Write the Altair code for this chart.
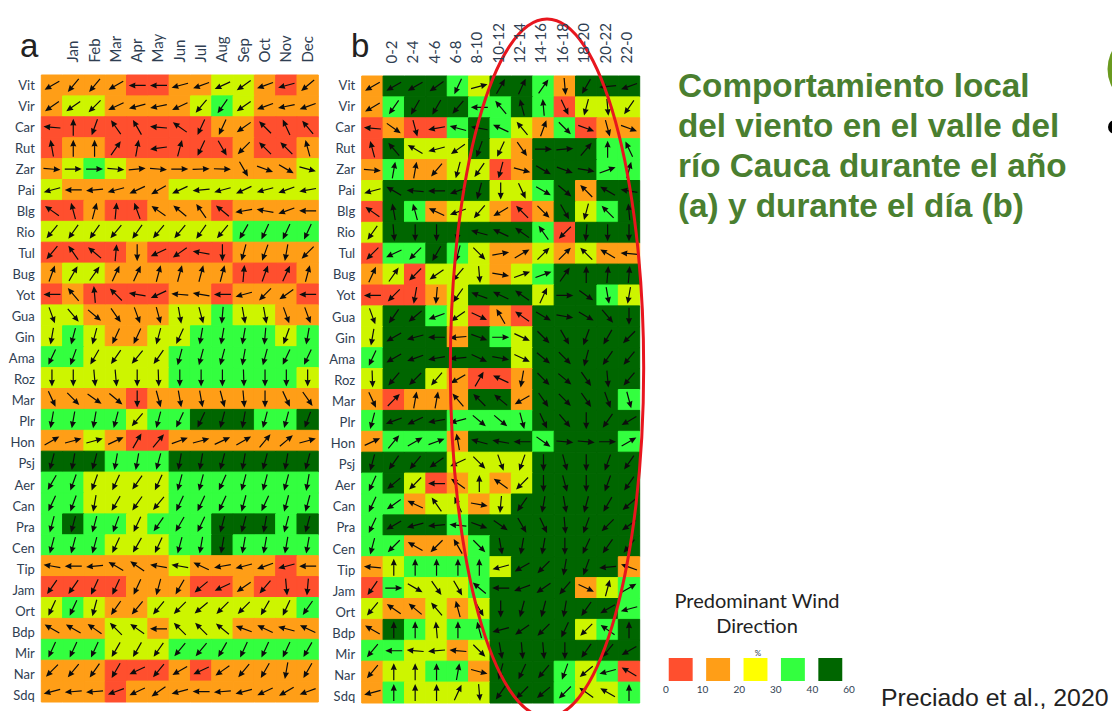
import altair as alt
import pandas as pd

ROWS = ["Vit","Vir","Car","Rut","Zar","Pai","Blg","Rio","Tul","Bug","Yot","Gua","Gin","Ama","Roz",
        "Mar","Plr","Hon","Psj","Aer","Can","Pra","Cen","Tip","Jam","Ort","Bdp","Mir","Nar","Sdq"]
MONTHS = ["Anual","Jan","Feb","Mar","Apr","May","Jun","Jul","Aug","Sep","Oct","Nov","Dec"]
HOURS = ["Dia","0-2","2-4","4-6","6-8","8-10","10-12","12-14","14-16","16-18","18-20","20-22","22-0"]

CLASS_A = ["1111001122101","1221111232111","0000000011000","0110000001001","1232111111112",
           "2111112222222","0010011101111","2222222223333","0000100001111","1221111110001",
           "0100001101110","2211112232211","2321122333323","3322223333333","2222223333332",
           "1111011111111","3333233444334","1121001111111","4443334444444","3322223333333",
           "3322223333333","3433233344434","3332223343333","1111112111101","0000111001000",
           "2321122222223","1112212221111","3332223333333","1110001011111","1110111111111"]
CLASS_B = ["1444324431444","1344433430222","0100343213011","0422242144433","1311220144433",
           "2444442234144","0431221014234","2444444430444","0334321121211","1202221234444",
           "0001244424432","2443201044444","2444143244444","3444444244444","2442100144444",
           "1011144144443","3444333344444","1333144434443","4444222244444","3420121244444",
           "3312212444444","3444344444444","3311134444444","1233332444441","0322234444123",
           "2112124444443","1432334444234","3322124444444","1223314443230","1322224443223"]

ANGLE_A = [
 [240,220,220,240,270,270,255,250,245,235,250,255,230],
 [235,235,225,245,255,258,245,220,215,235,250,258,250],
 [275,0,200,325,330,275,305,205,205,235,315,335,320],
 [350,0,0,35,10,262,15,205,150,225,315,315,345],
 [95,90,90,95,85,95,90,88,92,150,110,120,105],
 [255,270,265,255,245,240,245,265,255,245,255,250,260],
 [305,345,15,5,340,305,310,325,310,260,280,250,270],
 [220,215,215,220,215,220,220,215,220,210,205,205,205],
 [220,325,310,5,180,245,235,280,180,195,200,190,225],
 [20,30,35,25,25,15,15,15,15,5,20,25,15],
 [270,320,355,315,280,245,275,280,270,255,225,235,270],
 [160,140,130,145,160,165,170,165,185,170,170,160,160],
 [190,195,195,205,205,195,205,190,190,190,185,200,190],
 [205,200,210,215,220,215,195,195,195,190,195,205,205],
 [180,180,175,175,180,178,180,180,180,178,180,180,180],
 [155,135,125,130,180,165,170,170,165,175,180,155,145],
 [190,190,190,195,220,195,205,205,195,190,195,195,200],
 [60,75,75,65,30,40,70,75,65,60,40,50,75],
 [195,190,195,190,190,195,190,190,195,190,195,190,195],
 [210,200,200,205,215,205,195,195,205,195,195,195,190],
 [205,200,190,210,215,220,205,205,205,195,205,195,195],
 [195,195,195,200,205,215,210,205,195,195,190,195,195],
 [195,195,195,205,210,205,195,190,190,190,190,190,190],
 [280,270,265,300,305,280,280,295,260,255,250,255,270],
 [215,215,205,205,205,195,210,230,245,235,220,175,185],
 [205,205,195,215,220,220,225,230,225,225,210,205,215],
 [300,300,305,315,305,270,315,315,310,290,295,285,295],
 [205,205,205,210,210,215,220,220,210,205,205,205,210],
 [225,220,215,210,245,220,240,245,235,220,210,190,210],
 [255,265,265,250,245,235,255,270,265,255,245,240,250],
]
ANGLE_B = [
 [240,240,240,235,205,75,30,25,35,175,210,265,250],
 [240,215,210,210,220,270,320,345,355,155,195,175,215],
 [275,125,165,260,285,280,295,320,20,135,110,165,110],
 [345,320,300,255,235,200,205,145,90,85,40,0,335],
 [95,10,10,220,195,215,195,105,120,110,100,70,15],
 [255,300,275,270,250,195,180,155,120,130,315,300,280],
 [305,350,345,295,250,220,240,315,135,150,195,315,355],
 [215,175,180,180,190,285,295,305,325,225,185,180,180],
 [225,245,225,210,195,135,80,60,45,45,315,300,275],
 [25,35,225,235,220,175,100,70,70,35,0,5,5],
 [270,225,190,185,215,290,295,305,25,90,125,170,190],
 [160,215,230,250,235,115,330,305,120,100,120,140,180],
 [190,240,255,270,265,110,90,115,135,150,200,210,225],
 [205,240,250,260,265,115,100,115,130,135,195,215,220],
 [178,220,225,220,240,30,295,190,135,130,145,175,220],
 [155,45,10,10,320,315,310,240,145,135,145,160,165],
 [195,250,245,260,255,130,130,165,155,140,180,215,240],
 [65,40,60,70,350,285,280,270,125,95,95,90,60],
 [195,215,220,235,245,135,160,200,180,165,180,200,215],
 [205,230,225,270,305,0,305,225,180,165,180,200,215],
 [205,235,295,325,335,100,185,215,190,170,195,210,230],
 [205,240,255,265,275,110,125,150,155,175,200,225,235],
 [195,225,300,225,330,135,170,190,190,180,205,215,220],
 [275,0,0,0,0,0,255,240,225,190,200,265,290],
 [215,90,120,145,150,310,270,250,235,220,115,15,60],
 [220,305,310,320,345,150,180,195,195,190,215,240,255],
 [300,0,0,355,0,345,255,235,225,205,225,305,0],
 [220,270,275,265,275,135,170,175,175,180,215,220,240],
 [220,0,0,0,10,105,195,205,220,200,230,255,300],
 [255,0,0,0,25,175,215,225,230,225,305,300,0],
]

PALETTE = ["#FF4F2E", "#FF9E17", "#CDF500", "#33FF3F", "#006600"]
LEGEND_COLORS = ["#FF4F2E", "#FF9E17", "#FFFF00", "#33FF3F", "#006600"]
LEGEND_BINS = ["0-10", "10-20", "20-30", "30-40", "40-60"]
LEGEND_TICKS = ["0", "10", "20", "30", "40", "60"]
TITLE_LINES = ["Comportamiento local", "del viento en el valle del", "río Cauca durante el año", "(a) y durante el día (b)"]

ARROW = "M-0.07 1 L0.07 1 L0.07 -0.25 L0.36 -0.2 L0 -1 L-0.36 -0.2 L-0.07 -0.25 Z"
ELLIPSE = "M0 -1 A0.277 1 0 1 1 0 1 A0.277 1 0 1 1 0 -1 Z"
W, H = 1104, 703
M = 8


def table(classes, angles, cols):
    return pd.DataFrame([
        {"row": r, "col": c, "hex": PALETTE[int(classes[i][j])], "angle": angles[i][j]}
        for i, r in enumerate(ROWS) for j, c in enumerate(cols)
    ])


def panel(df, cols, xr, yr, label_yr, label_x_offset):
    xs = alt.Scale(type="band", domain=cols, range=xr, padding=0)
    ys = alt.Scale(type="band", domain=ROWS, range=yr, padding=0)
    ls = alt.Scale(type="band", domain=ROWS, range=label_yr, padding=0)
    first = cols[0]
    x_axis = alt.Axis(orient="top", offset=-yr[0], title=None, domain=False, ticks=False,
                      labelAngle=270, labelAlign="left", labelBaseline="middle", labelPadding=13,
                      labelOffset=label_x_offset,
                      labelFont="Lato", labelFontSize=15, labelColor="#2f3e52", grid=False,
                      labelOverlap=False,
                      labelExpr=f"datum.value == '{first}' ? '' : datum.value")
    y_axis = alt.Axis(orient="left", offset=-xr[0], title=None, domain=False, ticks=False,
                      labelPadding=7, labelFont="Lato", labelFontSize=13, labelColor="#2f3e52",
                      grid=False, labelOverlap=False)
    rect = alt.Chart(df).mark_rect(strokeWidth=1).encode(
        x=alt.X("col:N", scale=xs, axis=x_axis, sort=cols),
        y=alt.Y("row:N", scale=ys, axis=None, sort=ROWS),
        color=alt.Color("hex:N", scale=None),
        stroke=alt.Stroke("hex:N", scale=None),
    )
    arrows = alt.Chart(df).mark_point(shape=ARROW, filled=True, size=289, opacity=1, color="#0d0d0d").encode(
        x=alt.X("col:N", scale=xs, axis=x_axis, sort=cols),
        y=alt.Y("row:N", scale=ys, axis=None, sort=ROWS),
        angle=alt.Angle("angle:Q", scale=None),
    )
    # The row labels in the reference run on a slightly wider pitch than the cells.
    labels = alt.Chart(pd.DataFrame({"row": ROWS})).mark_rect(opacity=0).encode(
        y=alt.Y("row:N", scale=ls, axis=y_axis, sort=ROWS),
    )
    return alt.layer(rect, arrows), labels


one = pd.DataFrame({"k": [1]})


def note(text, x, y, size, font="Lato", color="#222222", align="left", weight="normal"):
    return alt.Chart(one).mark_text(text=text, font=font, fontSize=size, color=color, align=align,
                                    baseline="alphabetic", fontWeight=weight).encode(
        x=alt.value(x - M), y=alt.value(y - M))


panel_a, labels_a = panel(table(CLASS_A, ANGLE_A, MONTHS), MONTHS, [41.3 - M, 318.3 - M], [75 - M, 702 - M],
                          [75 - M, 706.6 - M], 0)
panel_b, labels_b = panel(table(CLASS_B, ANGLE_B, HOURS), HOURS, [361.7 - M, 639.7 - M], [76 - M, 703 - M],
                          [75 - M, 707.7 - M], -2)

legend_df = pd.DataFrame({"bin": LEGEND_BINS, "hex": LEGEND_COLORS, "row": ["s"] * 5})
swatches = alt.Chart(legend_df).mark_rect().encode(
    x=alt.X("bin:N", sort=LEGEND_BINS, axis=None,
            scale=alt.Scale(type="band", domain=LEGEND_BINS, range=[662 - M, 849 - M], paddingInner=0.36, paddingOuter=0.18)),
    y=alt.Y("row:N", axis=None, scale=alt.Scale(type="band", domain=["s"], range=[658 - M, 681 - M], padding=0)),
    color=alt.Color("hex:N", scale=None),
)
ticks = alt.Chart(pd.DataFrame({"t": LEGEND_TICKS})).mark_text(
    font="Lato", fontSize=10, color="#2f3e52", baseline="middle").encode(
    x=alt.X("t:N", sort=LEGEND_TICKS, axis=None,
            scale=alt.Scale(type="point", domain=LEGEND_TICKS, range=[666 - M, 849 - M], padding=0)),
    y=alt.value(690 - M),
    text="t:N",
)

ellipse = alt.Chart(one).mark_point(shape=ELLIPSE, filled=False, stroke="#E8161E", strokeWidth=3, opacity=1,
                                    size=4 * 349 ** 2).encode(
    x=alt.value(547 - M), y=alt.value(368 - M))

green_blob = alt.Chart(one).mark_point(shape="circle", filled=True, color="#6A9A1F", opacity=1, size=77 ** 2).encode(
    x=alt.value(1146 - M), y=alt.value(69 - M))
black_dot = alt.Chart(one).mark_point(shape="circle", filled=True, color="#000000", opacity=1, size=14 ** 2).encode(
    x=alt.value(1115 - M), y=alt.value(127 - M))

layers = [panel_a, panel_b, labels_a, labels_b, swatches, ticks, ellipse, green_blob, black_dot,
          note("a", 20, 57, 33, "Liberation Sans"),
          note("b", 351, 57, 33, "Liberation Sans"),
          note("Predominant Wind", 757, 608, 20, align="center"),
          note("Direction", 757, 633, 20, align="center"),
          note("%", 758, 656, 8, color="#2f3e52", align="center"),
          note("Preciado et al., 2020", 881, 706, 24.8, "Liberation Sans")]
for i, line in enumerate(TITLE_LINES):
    layers.append(note(line, 678, 97 + 40 * i, 33.3, "Liberation Sans", "#4A7F30", weight="bold"))

chart = alt.layer(*layers).resolve_scale(x="independent", y="independent", color="independent", stroke="independent").properties(
    width=W, height=H, padding=0, autosize=alt.AutoSizeParams(type="none"),
).configure_view(stroke=None)

chart.save("out.html", embed_options={"renderer": "svg", "actions": False})
